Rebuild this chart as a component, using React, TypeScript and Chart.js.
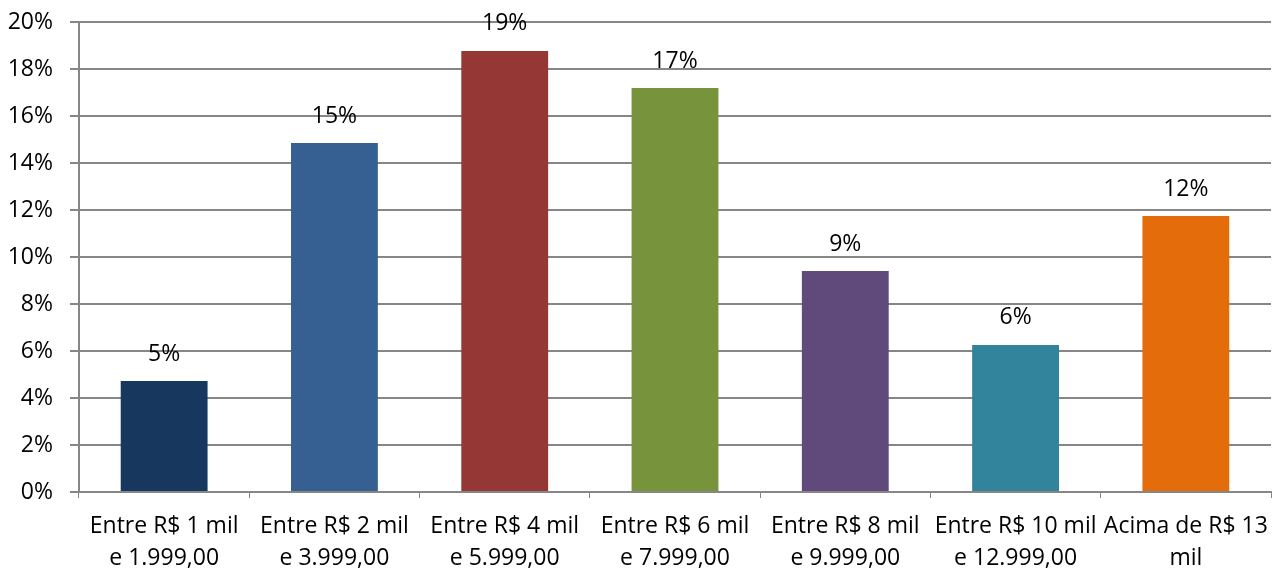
import React, { useEffect, useRef } from "react";
import { Chart, registerables } from "chart.js";

Chart.register(...registerables);

const categories: string[][] = [
  ["Entre R$ 1 mil", "e 1.999,00"],
  ["Entre R$ 2 mil", "e 3.999,00"],
  ["Entre R$ 4 mil", "e 5.999,00"],
  ["Entre R$ 6 mil", "e 7.999,00"],
  ["Entre R$ 8 mil", "e 9.999,00"],
  ["Entre R$ 10 mil", "e 12.999,00"],
  ["Acima de R$ 13", "mil"],
];
const values: number[] = [4.72, 14.85, 18.77, 17.19, 9.4, 6.26, 11.74];
const barColors: string[] = ["#17375E", "#376092", "#953735", "#77933C", "#604A7B", "#31849B", "#E46C0A"];
const yMin = 0;
const yMax = 20;
const yStep = 2;

const FONT = "'Open Sans', 'Liberation Sans', Arial, sans-serif";
const FS = 23;

const dataLabels = {
  id: "dataLabels",
  afterDatasetsDraw(chart: any) {
    const ctx = chart.ctx;
    const meta = chart.getDatasetMeta(0);
    ctx.save();
    ctx.font = `${FS}px ${FONT}`;
    ctx.fillStyle = "#000";
    ctx.textAlign = "center";
    ctx.textBaseline = "middle";
    meta.data.forEach((bar: any, i: number) => {
      ctx.fillText(Math.round(values[i]) + "%", bar.x, bar.y - 27);
    });
    ctx.restore();
  },
};

const zeroPad = (s: any) => {
  s.paddingTop = 0;
  s.paddingBottom = 0;
  s.paddingLeft = 0;
  s.paddingRight = 0;
};

export default function App() {
  const ref = useRef<HTMLCanvasElement>(null);
  useEffect(() => {
    document.body.style.margin = "0";
    const chart = new Chart(ref.current!, {
      type: "bar",
      data: {
        labels: categories,
        datasets: [
          {
            data: values,
            backgroundColor: barColors,
            categoryPercentage: 1,
            barPercentage: 0.51,
          },
        ],
      },
      options: {
        animation: false,
        responsive: false,
        devicePixelRatio: 1,
        layout: { padding: { top: 22, right: 2, left: 0, bottom: 0 } },
        plugins: { legend: { display: false }, tooltip: { enabled: false } },
        scales: {
          x: {
            grid: { display: true, drawOnChartArea: false, tickLength: 6, color: "#868686", offset: true },
            border: { color: "#868686", width: 2 },
            ticks: {
              color: "#000",
              font: { family: FONT, size: FS, lineHeight: 1.37 },
              padding: 13,
              maxRotation: 0,
              autoSkip: false,
            },
            afterFit: (s: any) => {
              s.height = 77;
              zeroPad(s);
            },
          },
          y: {
            min: yMin,
            max: yMax,
            grid: { color: "#868686", lineWidth: 2, tickLength: 9 },
            border: { color: "#868686", width: 2 },
            ticks: {
              stepSize: yStep,
              color: "#000",
              font: { family: FONT, size: FS },
              padding: 17,
              callback: (v: any) => v + "%",
            },
            afterFit: (s: any) => {
              s.width = 79;
              zeroPad(s);
            },
          },
        },
      },
      plugins: [dataLabels],
    });
    return () => chart.destroy();
  }, []);
  return (
    <div style={{ position: "fixed", left: 0, top: 0, width: 1273, height: 569 }}>
      <canvas ref={ref} width={1273} height={569} style={{ width: 1273, height: 569 }} />
    </div>
  );
}
